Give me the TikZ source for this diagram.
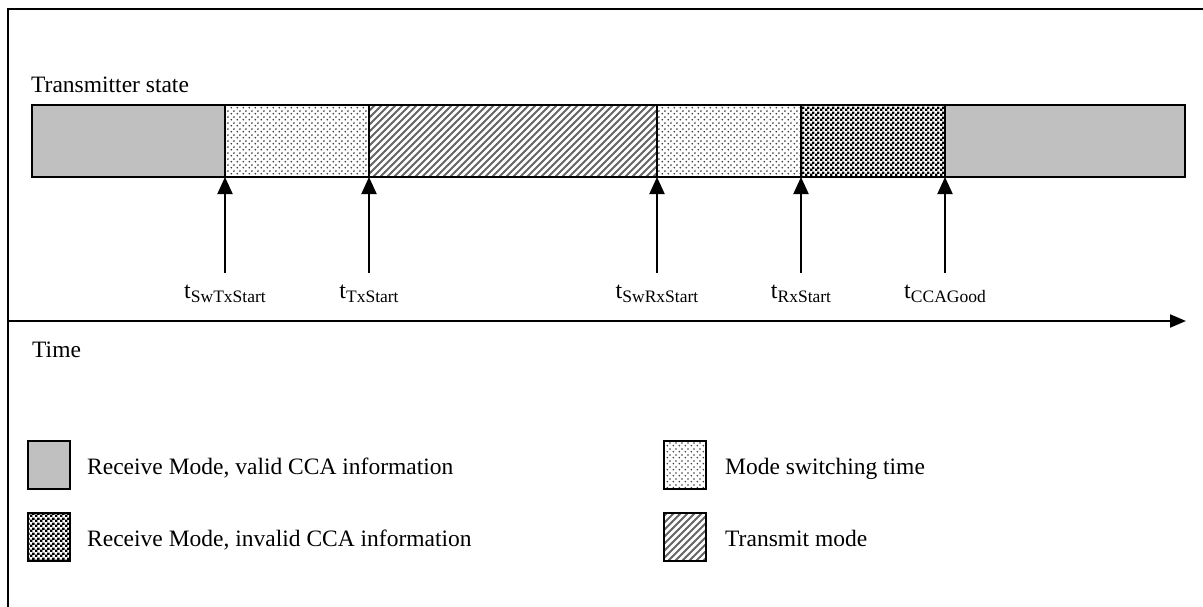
\documentclass[tikz,border=0pt]{standalone}
\usepackage{fontspec}
\setmainfont{Liberation Serif}
\usetikzlibrary{arrows.meta,patterns}

% fill patterns for the state bar and the key
\pgfdeclarepatternformonly{swdots}{\pgfpointorigin}{\pgfqpoint{5.6pt}{5.6pt}}{\pgfqpoint{5.6pt}{5.6pt}}{%
  \pgfpathcircle{\pgfqpoint{1.4pt}{1.4pt}}{0.95pt}%
  \pgfpathcircle{\pgfqpoint{4.2pt}{4.2pt}}{0.95pt}%
  \pgfusepath{fill}}
\pgfdeclarepatternformonly{txhatch}{\pgfqpoint{-1pt}{-1pt}}{\pgfqpoint{8pt}{8pt}}{\pgfqpoint{7pt}{7pt}}{%
  \pgfsetlinewidth{1.9pt}%
  \pgfpathmoveto{\pgfqpoint{-0.2pt}{-0.2pt}}%
  \pgfpathlineto{\pgfqpoint{7.2pt}{7.2pt}}%
  \pgfusepath{stroke}}
\pgfdeclarepatternformonly{ccacheck}{\pgfpointorigin}{\pgfqpoint{5pt}{5pt}}{\pgfqpoint{5pt}{5pt}}{%
  \pgfpathrectangle{\pgfpointorigin}{\pgfqpoint{2.8pt}{2.8pt}}%
  \pgfpathrectangle{\pgfqpoint{2.5pt}{2.5pt}}{\pgfqpoint{2.8pt}{2.8pt}}%
  \pgfusepath{fill}}

\tikzset{
  seg/.style={draw, line width=1.9pt, inner sep=0pt, outer sep=0pt,
    minimum height=72pt, anchor=north west},
  rxok/.style={fill={rgb,255:red,192;green,192;blue,192}},
  swtime/.style={pattern=swdots, pattern color=black!75},
  txmode/.style={pattern=txhatch, pattern color=black!60},
  rxbad/.style={pattern=ccacheck, pattern color=black},
  keybox/.style={draw, line width=1.9pt, inner sep=0pt, outer sep=0pt,
    minimum width=42pt, minimum height=48pt, anchor=north west},
  txt/.style={font=\fontsize{23.5}{28}\selectfont, inner sep=0pt},
  tlabel/.style={font=\fontsize{24}{28}\selectfont, inner xsep=0pt,
    inner ysep=9pt, text height=16pt, anchor=north},
  evarrow/.style={line width=2pt, -{Triangle[length=17pt,width=15pt]}},
}
\newcommand{\evt}[1]{t\raisebox{-4pt}{\fontsize{17.5}{20}\selectfont #1}}

\begin{document}
\begin{tikzpicture}[x=1pt, y=-1pt]
  \useasboundingbox (0,0) rectangle (1203,606);

  % outer frame
  \draw[line width=2pt] (8,607) -- (8,9) -- (1204,9);

  % transmitter state bar
  \node[txt, anchor=base west] (title) at (31,92) {Transmitter state};
  \node[seg, rxok,   minimum width=193pt] (s1) at (32,105)  {};
  \node[seg, swtime, minimum width=144pt] (s2) at (225,105) {};
  \node[seg, txmode, minimum width=288pt] (s3) at (369,105) {};
  \node[seg, swtime, minimum width=144pt] (s4) at (657,105) {};
  \node[seg, rxbad,  minimum width=144pt] (s5) at (801,105) {};
  \node[seg, rxok,   minimum width=240pt] (s6) at (945,105) {};

  % event labels and their arrows
  \node[tlabel] (e1) at (225,273) {\evt{SwTxStart}};
  \node[tlabel] (e2) at (369,273) {\evt{TxStart}};
  \node[tlabel] (e3) at (657,273) {\evt{SwRxStart}};
  \node[tlabel] (e4) at (801,273) {\evt{RxStart}};
  \node[tlabel] (e5) at (945,273) {\evt{CCAGood}};
  \draw[evarrow] (e1.north) -- (s1.south east);
  \draw[evarrow] (e2.north) -- (s2.south east);
  \draw[evarrow] (e3.north) -- (s3.south east);
  \draw[evarrow] (e4.north) -- (s4.south east);
  \draw[evarrow] (e5.north) -- (s5.south east);

  % time axis
  \coordinate (t0) at (8,321);
  \coordinate (t1) at (1186,321);
  \draw[line width=2pt, -{Triangle[length=16pt,width=13pt]}] (t0) -- (t1);
  \node[txt, anchor=base west] (time) at (32,357) {Time};

  % key
  \node[keybox, rxok]   (k1) at (28,441)  {};
  \node[keybox, rxbad]  (k2) at (28,513)  {};
  \node[keybox, swtime] (k3) at (664,441) {};
  \node[keybox, txmode] (k4) at (664,513) {};
  \node[txt, anchor=base west] (k1t) at (87,474)  {Receive Mode, valid CCA information};
  \node[txt, anchor=base west] (k2t) at (87,546)  {Receive Mode, invalid CCA information};
  \node[txt, anchor=base west] (k3t) at (725,474) {Mode switching time};
  \node[txt, anchor=base west] (k4t) at (725,546) {Transmit mode};
\end{tikzpicture}
\end{document}
